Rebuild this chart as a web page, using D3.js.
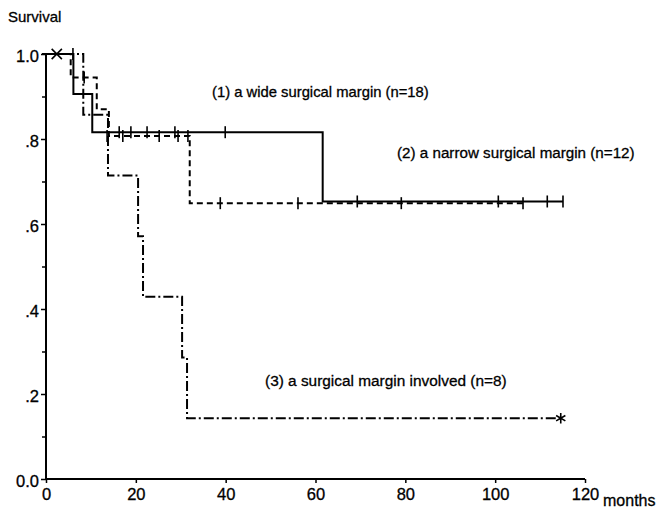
<!DOCTYPE html>
<html>
<head>
<meta charset="utf-8">
<script src="https://cdn.jsdelivr.net/npm/d3@7"></script>
<style>
  body { margin: 0; background: #fff; }
  svg { display: block; }
  text { font-family: Arial, "Liberation Sans", sans-serif; fill: #000; stroke: #000; stroke-width: 0.3; }
</style>
</head>
<body>
<div id="chart"></div>
<script>
// survival steps: [months, survival]
const wideSteps = [[0, 1.0], [6.1, 0.906], [10.3, 0.816], [61.6, 0.653]];
const wideEnd = 115.1;
const wideCensor = [[6.0, 1.0], [16.3, 0.816], [18.9, 0.816], [22.5, 0.816], [28.7, 0.816], [39.9, 0.816],
  [69.3, 0.653], [100.7, 0.653], [111.6, 0.653], [115.1, 0.653]];

const narrowSteps = [[0, 1.0], [5.5, 0.945], [11.3, 0.87], [14.0, 0.807], [32.0, 0.649]];
const narrowEnd = 106.2;
const narrowCensor = [[8.5, 0.945], [13.6, 0.807], [17.1, 0.807], [25.2, 0.807], [29.4, 0.807], [31.6, 0.807],
  [38.8, 0.649], [56.1, 0.649], [79.1, 0.649], [106.2, 0.649]];

const involvedSteps = [[0, 1.0], [8.3, 0.857], [13.8, 0.714], [20.5, 0.571], [21.6, 0.429], [30.3, 0.286], [31.4, 0.143]];
const involvedEnd = 114.6;
const involvedStars = [[2.4, 1.0, "x"], [114.6, 0.143, "star"]];

const xTicks = [0, 20, 40, 60, 80, 100, 120];
const yTicks = [0, 0.2, 0.4, 0.6, 0.8, 1.0];
const yTickLabels = ["0.0", ".2", ".4", ".6", ".8", "1.0"];
const yMinor = [0.1, 0.3, 0.5, 0.7, 0.9];

const labels = [
  "(1) a wide surgical margin (n=18)",
  "(2) a narrow surgical margin (n=12)",
  "(3) a surgical margin involved (n=8)"
];

const width = 658, height = 509;
const svg = d3.select("#chart").append("svg")
  .attr("width", width)
  .attr("height", height);

const x = d3.scaleLinear().domain([0, 120]).range([46, 585]);
const y = d3.scaleLinear().domain([0, 1]).range([479, 54]);

// axes
const yAxis = svg.append("g")
  .attr("transform", "translate(46,0)")
  .call(d3.axisLeft(y).tickValues(yTicks).tickSize(5).tickPadding(2)
    .tickFormat((d, i) => yTickLabels[i]));
svg.append("g")
  .attr("transform", "translate(46,0)")
  .call(d3.axisLeft(y).tickValues(yMinor).tickSize(4).tickFormat(""))
  .select(".domain").remove();

const xAxis = svg.append("g")
  .attr("transform", "translate(0,479)")
  .call(d3.axisBottom(x).tickValues(xTicks).tickSize(4).tickPadding(5));

svg.selectAll(".domain").attr("stroke", "#000").attr("stroke-width", 2);
svg.selectAll(".tick line").attr("stroke", "#000").attr("stroke-width", 1.5);
svg.selectAll(".tick text").attr("font-size", 16.5).attr("font-family", "Arial, 'Liberation Sans', sans-serif");
yAxis.selectAll(".tick text").attr("dy", "0.45em");

// flat domain lines without end caps on x
xAxis.select(".domain").attr("d", `M${x(0)},0H${x(120)}`);
yAxis.select(".domain").attr("d", `M-4,${y(1)}H0V${y(0)}`);

const line = d3.line()
  .x(d => x(d[0]))
  .y(d => y(d[1]))
  .curve(d3.curveStepAfter);

function withEnd(steps, end) {
  return steps.concat([[end, steps[steps.length - 1][1]]]);
}

const curves = [
  { steps: wideSteps, end: wideEnd, dash: null, censor: wideCensor },
  { steps: narrowSteps, end: narrowEnd, dash: "6,4", censor: narrowCensor },
  { steps: involvedSteps, end: involvedEnd, dash: "10,3,2,3", censor: [] }
];

curves.forEach(c => {
  svg.append("path")
    .datum(withEnd(c.steps, c.end))
    .attr("d", line)
    .attr("fill", "none")
    .attr("stroke", "#000")
    .attr("stroke-width", 2)
    .attr("stroke-dasharray", c.dash);

  svg.selectAll(null)
    .data(c.censor)
    .enter().append("line")
    .attr("x1", d => x(d[0]))
    .attr("x2", d => x(d[0]))
    .attr("y1", d => y(d[1]) - 6)
    .attr("y2", d => y(d[1]) + 6)
    .attr("stroke", "#000")
    .attr("stroke-width", 1.6);
});

svg.selectAll(null)
  .data(involvedStars)
  .enter().append("path")
  .attr("transform", d => `translate(${x(d[0])},${y(d[1])})`)
  .attr("d", d => d3.symbol().type(d[2] === "x" ? d3.symbolTimes : d3.symbolAsterisk).size(d[2] === "x" ? 70 : 80)())
  .attr("fill", "none")
  .attr("stroke", "#000")
  .attr("stroke-width", 1.6);

// texts
svg.append("text").attr("x", 8).attr("y", 22).attr("font-size", 15).text("Survival");
svg.append("text").attr("x", 603).attr("y", 506).attr("font-size", 16).text("months");

const labelPos = [[212, 97], [397, 158], [265, 386]];
const labelSize = [14.8, 15.2, 15.4];
svg.selectAll(".lbl")
  .data(labels)
  .enter().append("text")
  .attr("class", "lbl")
  .attr("x", (d, i) => labelPos[i][0])
  .attr("y", (d, i) => labelPos[i][1])
  .attr("font-size", (d, i) => labelSize[i])
  .text(d => d);
</script>
</body>
</html>
